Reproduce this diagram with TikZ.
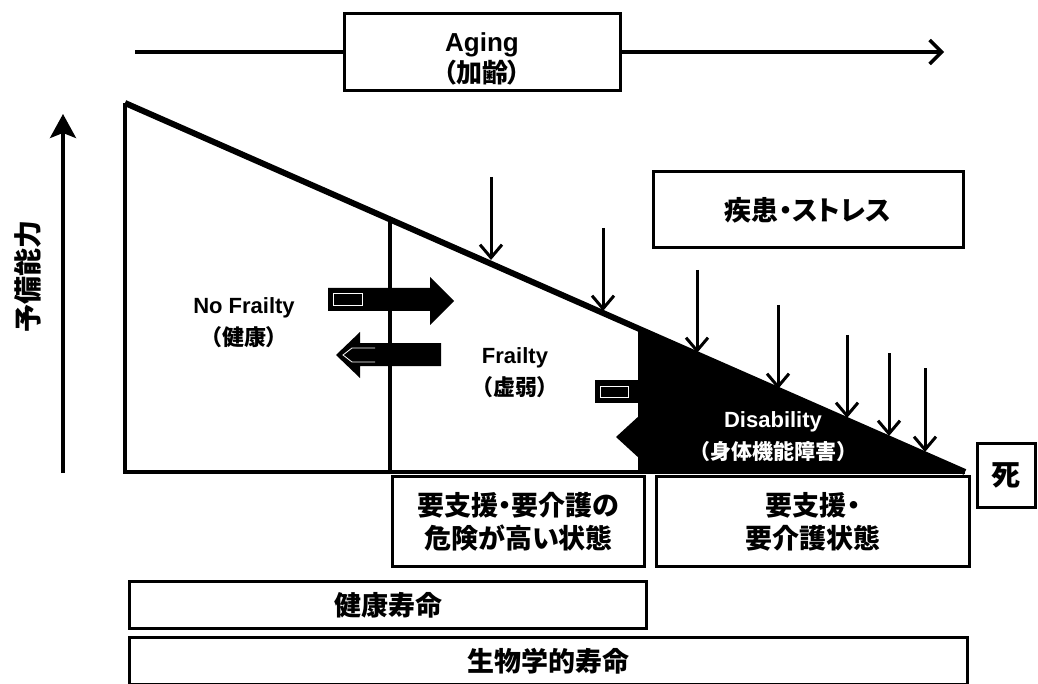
\documentclass[tikz,border=0pt]{standalone}
\usepackage{fontspec}
\setmainfont{Liberation Sans}
\newfontfamily\jp{Noto Sans CJK JP}[RawFeature=+palt]
\newfontfamily\jpfull{Noto Sans CJK JP}
\usetikzlibrary{positioning,arrows.meta}
\tikzstyle{labelbox}=[rectangle, draw=black, line width=3pt, fill=white,
        text centered, align=center, inner sep=0pt, font=\jp\fontsize{27}{33}\selectfont\bfseries]
\tikzstyle{plainlabel}=[align=center, inner sep=0pt, font=\fontsize{22}{32}\selectfont\bfseries]
\tikzstyle{myarrow}=[-{Straight Barb[length=12pt,width=24pt]}, line width=3.5pt]
\tikzstyle{hitarrow}=[-{Straight Barb[length=13pt,width=22pt]}, line width=3pt]
\tikzstyle{line}=[-, line width=4.5pt]
\tikzstyle{blockarrow}=[fill=black]
\tikzstyle{sheen}=[draw=white, line width=0.8pt]

\begin{document}
\begin{tikzpicture}[x=1pt, y=-1pt]
    \useasboundingbox (0,0) rectangle (1038,684);

    % aging axis
    \node (aging) [labelbox, minimum width=276, minimum height=77,
        font=\fontsize{26}{31}\selectfont\bfseries] at (482,52)
        {\rule{0pt}{32pt}Aging\\{\jp（加齢）}};
    \coordinate (agestart) at (135,52);
    \coordinate (ageend) at (944,52);
    \draw[line, line width=3.5pt] (agestart) -- (aging.west);
    \draw[myarrow] (aging.east) -- (ageend);

    % reserve axis
    \coordinate (resbot) at (63,473);
    \coordinate (restop) at (63,114);
    \draw[-{Stealth[length=24pt,width=26pt,inset=5pt]}, line width=3.5pt] (resbot) -- (restop);
    \node (reserve) [plainlabel, rotate=90, font=\jp\fontsize{28}{32}\selectfont\bfseries] at (28,277) {予備能力};

    % disability area
    \fill (640,329) -- (965,472) -- (640,472) -- cycle;
    \fill (640,415) -- (616,437) -- (640,459) -- cycle;

    % triangle
    \coordinate (origin) at (125,103);
    \coordinate (death) at (965,472);
    \draw[line, line join=miter] (origin) -- (125,472) -- (death);
    \draw[line, line width=6pt] (origin) -- (death);
    \draw[line] (390,217) -- (390,472);
    \draw[line] (640,329) -- (640,472);

    % block arrows
    \fill[blockarrow] (328,288) -- (430,288) -- (430,277) -- (454,301) -- (430,325)
        -- (430,311) -- (328,311) -- cycle;
    \draw[sheen] (333,293) rectangle (362,305);
    \fill[blockarrow] (441,343) -- (360,343) -- (360,332) -- (336,355) -- (360,378)
        -- (360,366) -- (441,366) -- cycle;
    \draw[sheen] (375,348) -- (352,348) -- (343,355) -- (352,362) -- (375,362);
    \fill[blockarrow] (595,380) rectangle (640,403);
    \draw[sheen] (600,386) rectangle (628,397);

    % stress
    \node (stress) [labelbox, minimum width=310, minimum height=76] at (808,210)
        {疾患・ストレス};
    \foreach \x/\ya/\yb in {491/177/260, 603/228/311, 697/270/353, 778/305/389,
            847/335/418, 889/353/436, 925/368/452}
        \draw[hitarrow] (\x,\ya) -- (\x,\yb);

    % states
    \node (nofrailty) [plainlabel] at (244,323) {No Frailty\\{\jp（健康）}};
    \node (frailty) [plainlabel] at (515,373) {Frailty\\{\jp（虚弱）}};
    \node (disability) [plainlabel, text=white] at (773,437)
        {Disability\\{\jpfull\fontsize{21}{30}\selectfont（身体機能障害）}};

    \node (dead) [labelbox, minimum width=58, minimum height=64, font=\jp\fontsize{29}{32}\selectfont\bfseries]
        at (1006,475) {死};

    % care boxes
    \node (risk) [labelbox, minimum width=252, minimum height=90, anchor=north west] at (391,475)
        {要支援・要介護の\\危険が高い状態};
    \node (care) [labelbox, minimum width=313, minimum height=90, right=9pt of risk]
        {要支援・\\要介護状態};

    % life spans
    \node (healthy) [labelbox, minimum width=517, minimum height=47, anchor=north west] at (128,580)
        {健康寿命};
    \node (bio) [labelbox, minimum width=838, minimum height=47, below=6pt of healthy.south west, anchor=north west]
        {生物学的寿命};
\end{tikzpicture}
\end{document}
